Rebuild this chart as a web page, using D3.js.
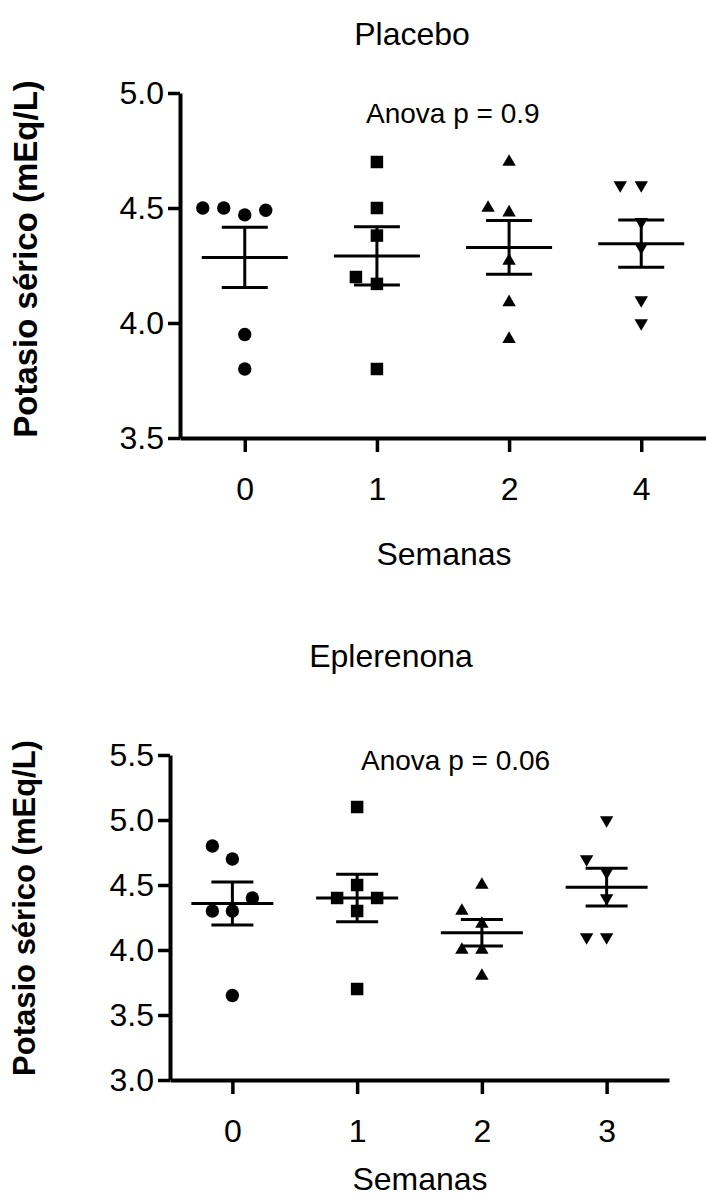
<!DOCTYPE html>
<html>
<head>
<meta charset="utf-8">
<script src="https://cdn.jsdelivr.net/npm/d3@7"></script>
<style>
  body { margin: 0; background: #fff; }
  svg text { font-family: "Liberation Sans", Arial, sans-serif; fill: #000; }
</style>
</head>
<body>
<svg id="chart" width="706" height="1197"></svg>
<script>
// Placebo group, potassium (mEq/L) per week
const placeboWeeks = ['0', '1', '2', '4'];
const placeboWeek0 = [3.8, 3.95, 4.47, 4.5, 4.49, 4.5];
const placeboWeek1 = [4.7, 4.5, 4.38, 4.17, 4.2, 3.8];
const placeboWeek2 = [4.7, 4.48, 4.5, 4.27, 4.09, 3.93];
const placeboWeek4 = [4.6, 4.6, 4.44, 4.33, 4.1, 4.0];
const placeboTicks = [3.5, 4.0, 4.5, 5.0];

// Eplerenona group
const eplerenonaWeeks = ['0', '1', '2', '3'];
const eplerenonaWeek0 = [4.3, 4.3, 4.4, 4.7, 4.8, 3.65];
const eplerenonaWeek1 = [4.3, 4.4, 4.4, 4.5, 5.1, 3.7];
const eplerenonaWeek2 = [3.8, 4.0, 4.0, 4.2, 4.3, 4.5];
const eplerenonaWeek3 = [4.1, 4.1, 4.4, 4.6, 4.7, 5.0];
const eplerenonaTicks = [3.0, 3.5, 4.0, 4.5, 5.0, 5.5];

const symbolTypes = [d3.symbolCircle, d3.symbolSquare, d3.symbolTriangle, 'down'];

const svg = d3.select('#chart');

// spread points that would overlap into columns: 0, -1, +1, -2, +2 ...
function Jitter(values, y, slot, minGap) {
  var placed = [];
  values.forEach(function(v) {
    var py = y(v);
    for (var k = 0; k < 20; k ++) {
      var col = k === 0 ? 0 : (k % 2 === 1 ? -Math.ceil(k / 2) : k / 2);
      var hit = placed.some((p) => p.col === col && Math.abs(p.py - py) < minGap);
      if (!hit) { placed.push({ value: v, py: py, col: col }); break; }
    }
  });
  return placed.map((p) => ({ value: p.value, dx: p.col * slot }));
}

function DrawPanel(cfg) {
  const g = svg.append('g');
  const x = cfg.x, y = cfg.y;

  // points
  cfg.groups.forEach(function(values, i) {
    var type = symbolTypes[i];
    var sym = d3.symbol()
      .type(type === 'down' ? d3.symbolTriangle : type)
      .size(type === d3.symbolCircle ? 140 : type === d3.symbolSquare ? 156 : 78);
    var pts = Jitter(values, y, cfg.slot, cfg.minGap);
    g.selectAll('.pt' + i)
      .data(pts)
      .enter()
      .append('path')
        .attr('d', sym)
        .attr('transform', (d) => 'translate(' + (x(cfg.weeks[i]) + d.dx) + ',' + y(d.value) + ')' + (type === 'down' ? ' rotate(180)' : ''))
        .attr('fill', '#000');

    // mean +/- SEM
    var m = d3.mean(values);
    var sem = d3.deviation(values) / Math.sqrt(values.length);
    var cx = x(cfg.weeks[i]);
    var bars = g.append('g').attr('stroke', '#000').attr('stroke-width', 3);
    bars.append('line').attr('x1', cx - cfg.meanHalf).attr('x2', cx + cfg.meanHalf).attr('y1', y(m)).attr('y2', y(m));
    bars.append('line').attr('x1', cx).attr('x2', cx).attr('y1', y(m + sem)).attr('y2', y(m - sem));
    bars.append('line').attr('x1', cx - cfg.capHalf).attr('x2', cx + cfg.capHalf).attr('y1', y(m + sem)).attr('y2', y(m + sem));
    bars.append('line').attr('x1', cx - cfg.capHalf).attr('x2', cx + cfg.capHalf).attr('y1', y(m - sem)).attr('y2', y(m - sem));
  });

  // axes
  var yAxis = g.append('g')
    .attr('transform', 'translate(' + x.range()[0] + ',0)')
    .call(d3.axisLeft(y).tickValues(cfg.ticks).tickFormat(d3.format('.1f')).tickSize(12).tickPadding(4).tickSizeOuter(0));
  var xAxis = g.append('g')
    .attr('transform', 'translate(0,' + y.range()[0] + ')')
    .call(d3.axisBottom(x).tickSize(14).tickPadding(25).tickSizeOuter(0));

  [yAxis, xAxis].forEach(function(a) {
    a.select('.domain').attr('stroke-width', 4);
    a.selectAll('.tick line').attr('stroke-width', 3.5);
    a.selectAll('.tick text').style('font-size', '32px');
  });

  // labels
  g.append('text')
    .attr('x', cfg.titleX).attr('y', cfg.titleY)
    .attr('text-anchor', 'middle')
    .style('font-size', '32px')
    .text(cfg.title);

  g.append('text')
    .attr('x', cfg.anovaX).attr('y', cfg.anovaY)
    .style('font-size', '28px')
    .text(cfg.anova);

  g.append('text')
    .attr('x', cfg.xLabelX).attr('y', cfg.xLabelY)
    .attr('text-anchor', 'middle')
    .style('font-size', '32px')
    .text('Semanas');

  g.append('text')
    .attr('transform', 'translate(' + cfg.yLabelX + ',' + cfg.yLabelY + ') rotate(-90)')
    .attr('text-anchor', 'middle')
    .style('font-size', cfg.yLabelSize + 'px')
    .style('font-weight', 'bold')
    .text('Potasio sérico (mEq/L)');
}

DrawPanel({
  weeks: placeboWeeks,
  groups: [placeboWeek0, placeboWeek1, placeboWeek2, placeboWeek4],
  ticks: placeboTicks,
  x: d3.scalePoint().domain(placeboWeeks).range([180, 706]).padding(0.49),
  y: d3.scaleLinear().domain([3.5, 5.0]).range([438, 93]),
  slot: 21, minGap: 15, meanHalf: 43, capHalf: 23,
  title: 'Placebo', titleX: 412, titleY: 45,
  anova: 'Anova p = 0.9', anovaX: 366, anovaY: 123,
  xLabelX: 444, xLabelY: 565,
  yLabelX: 37, yLabelY: 259, yLabelSize: 33
});

DrawPanel({
  weeks: eplerenonaWeeks,
  groups: [eplerenonaWeek0, eplerenonaWeek1, eplerenonaWeek2, eplerenonaWeek3],
  ticks: eplerenonaTicks,
  x: d3.scalePoint().domain(eplerenonaWeeks).range([170, 669]).padding(0.5),
  y: d3.scaleLinear().domain([3.0, 5.5]).range([1080, 755]),
  slot: 20, minGap: 15, meanHalf: 41, capHalf: 21,
  title: 'Eplerenona', titleX: 391, titleY: 667,
  anova: 'Anova p = 0.06', anovaX: 361, anovaY: 770,
  xLabelX: 420, xLabelY: 1190,
  yLabelX: 35, yLabelY: 908, yLabelSize: 31
});
</script>
</body>
</html>
